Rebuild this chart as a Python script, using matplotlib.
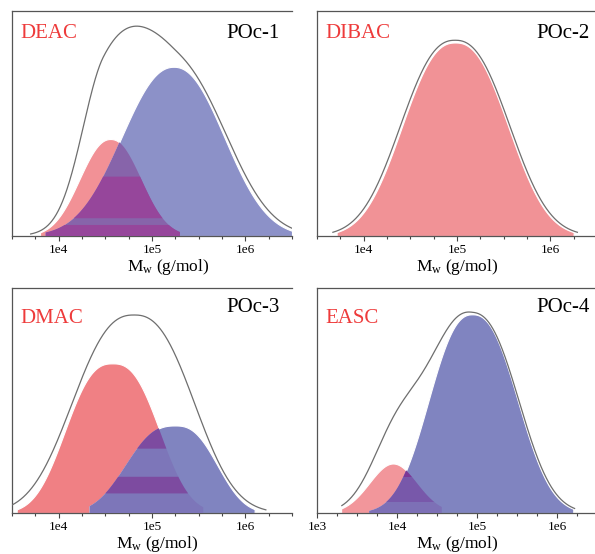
import numpy as np
import matplotlib
matplotlib.use("Agg")
import matplotlib.pyplot as plt
from matplotlib.ticker import FixedLocator, FixedFormatter, NullFormatter

plt.rcParams['font.family'] = ['Liberation Serif', 'DejaVu Serif']
plt.rcParams['mathtext.fontset'] = 'custom'
plt.rcParams['mathtext.rm'] = 'Liberation Serif'
plt.rcParams['mathtext.it'] = 'Liberation Serif:italic'

# ---------------- data ----------------
catalysts = ["DEAC", "DIBAC", "DMAC", "EASC"]
samples = ["POc-1", "POc-2", "POc-3", "POc-4"]

# axis range in log10(M) and labelled decades
x_lo = [3.5, 3.5, 3.5, 3.0]
x_hi = [6.5, 6.5, 6.5, 6.5]
major_exps = [[4, 5, 6], [4, 5, 6], [4, 5, 6], [3, 4, 5, 6]]

# peak parameters: (height, log10 of peak M, left width, right width, shape)
red_peak = [(0.431, 4.554, 0.44, 0.44, 2.2),
            (0.860, 4.980, 0.72, 0.72, 2.4),
            (0.665, 4.575, 0.618, 0.618, 2.6),
            (0.220, 3.950, 0.42, 0.42, 2.0)]
red_range = [(3.80, 5.30), (3.71, 6.25), (3.55, 5.55), (3.30, 4.56)]

blue_peak = [(0.752, 5.232, 0.74, 0.72, 2.2),
             None,
             (0.389, 5.247, 0.64, 0.55, 2.6),
             (0.883, 4.940, 0.69, 0.72, 2.4)]
blue_range = [(3.86, 6.5), None, (4.33, 6.10), (3.65, 6.204)]

# measured overall curve, as sum of components
env_parts = [[(0.752, 5.232, 0.74, 0.76, 2.2), (0.53, 4.48, 0.35, 0.55, 2.0)],
             [(0.870, 4.980, 0.738, 0.738, 2.4)],
             [(0.880, 4.808, 0.82, 0.80, 2.5)],
             [(0.888, 4.940, 0.70, 0.735, 2.4), (0.34, 4.00, 0.45, 0.45, 2.0)]]
env_range = [(3.70, 6.5), (3.67, 6.29), (3.45, 6.22), (3.31, 6.22)]

# ---------------- styling ----------------
red_col = ["#F29196", "#F19296", "#F08084", "#F2969B"]
blue_col = ["#8C91C8", None, "#8084C0", "#8084C0"]
ovl_col = ["#8764AA", None, "#7D76B9", "#7D70B6"]
ovl_bands = [[(0.0, 0.049, "#96469B"), (0.079, 0.264, "#96469B")],
             [],
             [(0.087, 0.161, "#7D4BA0"), (0.286, 1.0, "#7D4BA0")],
             [(0.049, 0.16, "#7858AA"), (0.16, 1.0, "#7D3796")]]
lab_x = [(0.029, 0.957), (0.029, 0.975), (0.029, 0.957), (0.029, 0.975)]
lab_y = [(0.879, 0.879), (0.879, 0.879), (0.843, 0.895), (0.843, 0.895)]
xlab_x = [0.557, 0.5, 0.52, 0.502]

W, H = 595, 554
fig = plt.figure(figsize=(W / 100, H / 100), dpi=100)
pos = [(12, 11), (317, 11), (12, 288), (317, 288)]
aw, ah = 280, 225


def gg(xl, p):
    h, c, aL, aR, s = p
    d = xl - c
    a = np.where(d < 0, aL, aR)
    return h * np.exp(-np.abs(d / a) ** s)


for i in range(4):
    x0, y0 = pos[i]
    ax = fig.add_axes([x0 / W, 1 - (y0 + ah) / H, aw / W, ah / H])
    ax.set_xscale('log')
    grid = np.linspace(x_lo[i], x_hi[i], 1500)
    M = 10 ** grid

    def comp(p, rng):
        v = gg(grid, p)
        return np.where((grid >= rng[0]) & (grid <= rng[1]), v, 0.0)

    red = comp(red_peak[i], red_range[i])
    ax.fill_between(M, 0, red, where=red > 0, facecolor=red_col[i],
                    edgecolor='white', linewidth=0.8, zorder=1)
    if blue_peak[i] is not None:
        blue = comp(blue_peak[i], blue_range[i])
        ax.fill_between(M, 0, blue, where=blue > 0, facecolor=blue_col[i],
                        edgecolor='white', linewidth=0.8, zorder=2)
        ovl = np.minimum(red, blue)
        ax.fill_between(M, 0, ovl, where=ovl > 0, facecolor=ovl_col[i],
                        linewidth=0, zorder=3)
        for (b0, b1, bc) in ovl_bands[i]:
            top = np.minimum(ovl, b1)
            ax.fill_between(M, b0, top, where=ovl > b0, facecolor=bc,
                            linewidth=0, zorder=3.1)
    env = sum(gg(grid, p) for p in env_parts[i])
    m = (grid >= env_range[i][0]) & (grid <= env_range[i][1])
    ax.plot(M[m], env[m], color='#6E6E6E', lw=0.9, zorder=4)

    ax.set_xlim(10 ** x_lo[i], 10 ** x_hi[i])
    ax.set_ylim(0, 1)
    ax.set_yticks([])
    majors = [10.0 ** e for e in major_exps[i]]
    minors = [10 ** v for v in np.arange(x_lo[i], x_hi[i] + 1e-9, 0.25)
              if abs(v - round(v)) > 1e-6]
    ax.xaxis.set_major_locator(FixedLocator(majors))
    ax.xaxis.set_major_formatter(FixedFormatter([f"1e{e}" for e in major_exps[i]]))
    ax.xaxis.set_minor_locator(FixedLocator(minors))
    ax.xaxis.set_minor_formatter(NullFormatter())
    ax.tick_params(axis='x', which='major', direction='out', length=3.5,
                   width=0.8, color='#444444', labelsize=9.5, pad=2)
    ax.tick_params(axis='x', which='minor', direction='out', length=2,
                   width=0.8, color='#444444')
    for s in ['left', 'top', 'bottom']:
        ax.spines[s].set_color('#555555')
        ax.spines[s].set_linewidth(0.9)
    ax.spines['right'].set_visible(False)
    ax.set_xlabel(r"M$_{\mathrm{w}}$ (g/mol)", fontsize=12.5)
    ax.xaxis.set_label_coords(xlab_x[i], -0.092)
    ax.xaxis.label.set_verticalalignment('top')
    ax.text(lab_x[i][0], lab_y[i][0], catalysts[i], transform=ax.transAxes,
            color='#EE3B3B', fontsize=15, ha='left', va='baseline', zorder=5)
    ax.text(lab_x[i][1], lab_y[i][1], samples[i], transform=ax.transAxes,
            color='black', fontsize=15, ha='right', va='baseline', zorder=5)

fig.savefig("out.png", dpi=100)
